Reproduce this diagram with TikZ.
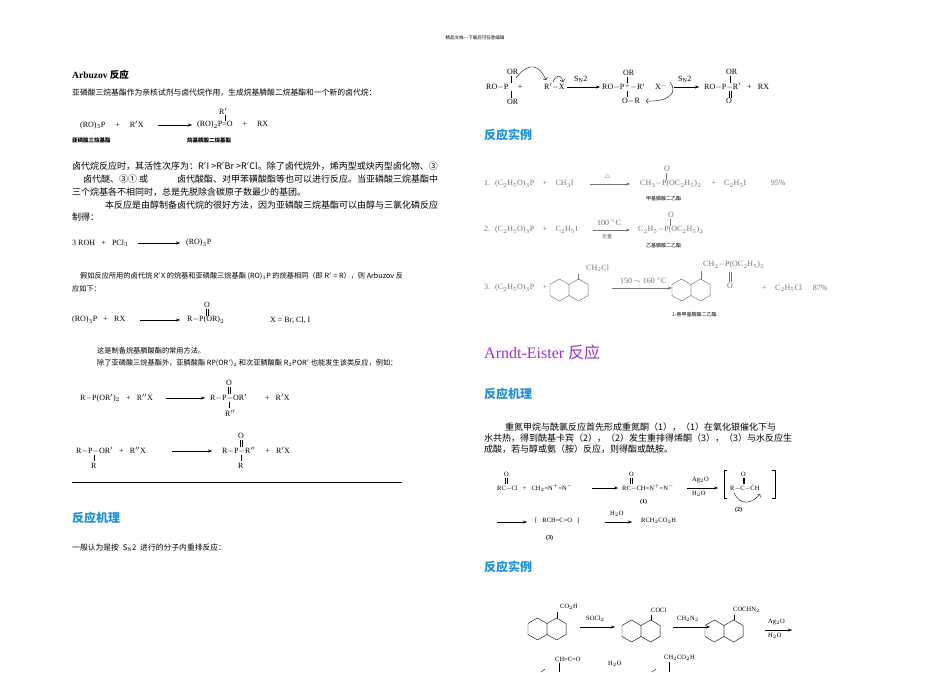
\documentclass[tikz,border=0pt]{standalone}
\usepackage{amsmath}
\usepackage{fontspec}
\setmainfont{Liberation Serif}
\newfontfamily\cjk{Noto Sans CJK SC}
\usetikzlibrary{arrows.meta}
\definecolor{hblue}{HTML}{1E8FD8}
\definecolor{hpurple}{HTML}{9A2FD6}
\tikzset{
 t/.style={anchor=west,inner sep=0,font=\fontsize{7.8}{9}\selectfont\cjk},
 tp/.style={anchor=west,inner sep=0,font=\fontsize{9}{10}\selectfont\cjk},
 ts/.style={anchor=west,inner sep=0,font=\fontsize{7.2}{9}\selectfont\cjk},
 ch/.style={anchor=west,inner sep=0,font=\fontsize{8}{9}\selectfont},
 chg/.style={ch,text=black!55},
 hd/.style={anchor=west,inner sep=0,font=\fontsize{12}{14}\selectfont\cjk\bfseries,text=hblue},
 rx/.style={-{Stealth[length=4pt,width=3pt]},line width=0.5pt},
 bd/.style={line width=0.4pt},
 pics/naph/.style={code={
   \foreach \cx in {-9.53,9.53}{
     \draw[bd] (\cx,0) ++(30:11) -- ++(150:11) -- ++(210:11) -- ++(270:11) -- ++(330:11) -- ++(30:11) -- cycle;}
 }}
}
\begin{document}
\begin{tikzpicture}[x=1pt,y=-1pt]
\useasboundingbox (0,0) rectangle (950,672);
\fill[white] (0,0) rectangle (950,672);
\node[inner sep=0,font=\fontsize{4.5}{5}\selectfont\cjk] (hdr) at (475,38) {精品文档---下载后可任意编辑};
% ===== left column
\node[anchor=west,inner sep=0,font=\fontsize{9.5}{11}\selectfont\bfseries] (arb) at (72,75) {Arbuzov {\cjk 反应}};
\node[t] (l1) at (72,93) {亚磷酸三烷基酯作为亲核试剂与卤代烷作用，生成烷基膦酸二烷基酯和一个新的卤代烷：};
\node[ch] (r1a) at (80,125) {(RO)$_3$P \quad + \quad R$'$X};
\draw[rx] (158,125) -- (192,125);
\node[ch] (r1b) at (197,125) {(RO)$_2$P=O \quad + \quad RX};
\node[ch] (r1c) at (219,111) {R$'$};
\draw[bd] (225,115) -- (225,121);
\node[t,font=\fontsize{5.5}{6}\selectfont\cjk\bfseries] (n1) at (72,140) {亚磷酸三烷基酯};
\node[t,font=\fontsize{5.5}{6}\selectfont\cjk\bfseries] (n2) at (187,140) {烷基膦酸二烷基酯};
\node[tp] (p1) at (72,166) {卤代烷反应时，其活性次序为：R$'$I >R$'$Br >R$'$Cl。除了卤代烷外，烯丙型或炔丙型卤化物、③};
\node[tp] (p2) at (83,179) {卤代醚、③① 或 \qquad\quad 卤代酸酯、对甲苯磺酸酯等也可以进行反应。当亚磷酸三烷基酯中};
\node[tp] (p3) at (72,192) {三个烷基各不相同时，总是先脱除含碳原子数最少的基团。};
\node[tp] (p4) at (105,205) {本反应是由醇制备卤代烷的很好方法，因为亚磷酸三烷基酯可以由醇与三氯化磷反应};
\node[tp] (p5) at (72,217) {制得：};
\node[ch] (r2a) at (72,243) {3 ROH \; + \; PCl$_3$};
\draw[rx] (138,243) -- (180,243);
\node[ch] (r2b) at (186,243) {(RO)$_3$P};
\node[ts] (p6) at (80,276) {假如反应所用的卤代烷 R$'$X 的烷基和亚磷酸三烷基酯 (RO)$_3$P 的烷基相同（即 R$'$ = R），则 Arbuzov 反};
\node[ts] (p7) at (72,289) {应如下：};
\node[ch] (r3a) at (72,320) {(RO)$_3$P \; + \; RX};
\draw[rx] (140,320) -- (180,320);
\node[ch] (r3b) at (187,320) {R$-$P(OR)$_2$};
\node[ch] (r3o) at (204,305) {O};
\draw[bd] (206.5,309) -- (206.5,316); \draw[bd] (208.5,309) -- (208.5,316);
\node[ch] (r3x) at (270,320) {X = Br, Cl, I};
\node[ts] (p8) at (97,351) {这是制备烷基膦酸酯的常用方法。};
\node[ts] (p9) at (97,363) {除了亚磷酸三烷基酯外，亚膦酸酯 RP(OR$'$)$_2$ 和次亚膦酸酯 R$_2$POR$'$ 也能发生该类反应，例如：};
\node[ch] (r4a) at (80,398) {R$-$P(OR$'$)$_2$ \; + \; R$''$X};
\draw[rx] (166,398) -- (205,398);
\node[ch] (r4b) at (210,398) {R$-$P$-$OR$'$ \qquad + \; R$'$X};
\node[ch] (r4o) at (226,383) {O};
\draw[bd] (228,387) -- (228,394); \draw[bd] (230,387) -- (230,394);
\draw[bd] (229,402) -- (229,408);
\node[ch] (r4r) at (225,413) {R$''$};
\node[ch] (r5a) at (76,451) {R$-$P$-$OR$'$ \; + \; R$''$X};
\draw[bd] (94,455) -- (94,461);
\node[ch] (r5r) at (91,466) {R};
\draw[rx] (172,451) -- (212,451);
\node[ch] (r5b) at (222,451) {R$-$P$-$R$''$ \quad + \; R$'$X};
\node[ch] (r5o) at (238,436) {O};
\draw[bd] (240,440) -- (240,447); \draw[bd] (242,440) -- (242,447);
\draw[bd] (241,455) -- (241,461);
\node[ch] (r5r2) at (238,466) {R};
\draw[line width=0.4pt] (72,482) -- (402,482);
\node[hd] (h1) at (72,518) {反应机理};
\node[t] (p10) at (72,548) {一般认为是按 \;S$_\mathrm{N}$2\; 进行的分子内重排反应：};
% ===== right column mechanism
\node[ch] (m1) at (486,87) {RO$-$P$\!:$ \;\; +};
\node[ch] (m1a) at (507,72) {OR};
\node[ch] (m1b) at (507,102) {OR};
\draw[bd] (511,76) -- (511,83); \draw[bd] (511,91) -- (511,98);
\node[ch] (m2) at (544,87) {R$'$$-$X};
\draw[->,bd] (516,78) .. controls (530,60) and (540,66) .. (546,80);
\draw[->,bd] (553,82) .. controls (557,74) and (561,74) .. (563,82);
\draw[rx] (567,87) -- (600,87);
\node[ch] (sn1) at (574,79) {S$_\mathrm{N}$2};
\node[ch] (m3) at (602,87) {RO$-$P$^{+}$$-$R$'$ \quad X$^-$};
\node[ch] (m3a) at (623,73) {OR};
\draw[bd] (627,77) -- (627,83); \draw[bd] (627,91) -- (627,97);
\node[ch] (m3b) at (622,101) {O$-$R};
\draw[->,bd] (670,82) .. controls (678,92) and (670,102) .. (646,101);
\draw[rx] (674,87) -- (699,87);
\node[ch] (sn2) at (678,79) {S$_\mathrm{N}$2};
\node[ch] (m4) at (704,87) {RO$-$P$-$R$'$ \; + \; RX};
\node[ch] (m4a) at (726,72) {OR};
\draw[bd] (730,76) -- (730,83); \draw[bd] (729,91) -- (729,98); \draw[bd] (731,91) -- (731,98);
\node[ch] (m4b) at (726,101) {O};
\node[hd] (h2) at (484,135) {反应实例};
% examples
\node[chg] (e1) at (484,184) {1.\; (C$_2$H$_5$O)$_3$P \;\; + \;\; CH$_3$I};
\draw[rx,black!55] (590,184) -- (630,184);
\node[chg] (e1d) at (604,177) {$\scriptstyle\triangle$};
\node[chg] (e1p) at (640,184) {CH$_3-$P(OC$_2$H$_5$)$_2$ \quad + \;\; C$_2$H$_5$I \qquad\;\; 95\%};
\node[chg] (e1o) at (664,169) {O}; \draw[black!55,bd] (666,173) -- (666,180);
\node[t,font=\fontsize{5}{6}\selectfont\cjk] (e1n) at (646,199) {甲基膦酸二乙酯};
\node[chg] (e2) at (484,230) {2.\; (C$_2$H$_5$O)$_3$P \;\; + \;\; C$_2$H$_5$I};
\draw[rx,black!55] (593,230) -- (630,230);
\node[chg] (e2t) at (597,223) {100 $^\circ$C};
\node[t,font=\fontsize{5}{6}\selectfont\cjk,text=black!60] (e2s) at (602,237) {定量};
\node[chg] (e2p) at (638,230) {C$_2$H$_5-$P(OC$_2$H$_5$)$_2$};
\node[chg] (e2o) at (668,215) {O}; \draw[black!55,bd] (670,219) -- (670,226);
\node[t,font=\fontsize{5}{6}\selectfont\cjk] (e2n) at (646,246) {乙基膦酸二乙酯};
\node[chg] (e3) at (484,288) {3.\; (C$_2$H$_5$O)$_3$P \;\; +};
\pic[black!60] at (569,290) {naph};
\node[chg] (e3c) at (586,268) {CH$_2$Cl};
\draw[black!55,bd] (578,274) -- (578,280);
\draw[rx,black!55] (612,288) -- (672,288);
\node[chg] (e3t) at (620,281) {150 $\sim$ 160 $^\circ$C};
\pic[black!60] at (691,290) {naph};
\node[chg] (e3p) at (703,265) {CH$_2-$P(OC$_2$H$_5$)$_2$};
\draw[black!55,bd] (701,271) -- (701,280);
\draw[black!55,bd] (729,272) -- (729,282); \draw[black!55,bd] (731,272) -- (731,282);
\node[chg] (e3o) at (727,286) {O};
\node[chg] (e3r) at (762,288) {+ \;\; C$_2$H$_5$Cl \;\;\; 87\%};
\node[t,font=\fontsize{5}{6}\selectfont\cjk] (e3n) at (672,315) {1-萘甲基膦酸二乙酯};
% Arndt-Eister
\node[anchor=west,inner sep=0,font=\fontsize{16}{18}\selectfont,text=hpurple] (ae) at (484,352) {Arndt-Eister {\cjk 反应}};
\node[hd] (h3) at (484,394) {反应机理};
\node[tp] (q1) at (505,427) {重氮甲烷与酰氯反应首先形成重氮酮（1），（1）在氧化银催化下与};
\node[tp] (q2) at (484,438) {水共热，得到酰基卡宾（2），（2）发生重排得烯酮（3），（3）与水反应生};
\node[tp] (q3) at (484,449) {成酸，若与醇或氨（胺）反应，则得酯或酰胺。};
\tikzset{cs/.style={ch,font=\fontsize{6.5}{7}\selectfont}}
\node[cs] (a1) at (497,488) {RC$-$Cl \; + \; CH$_2$=N$^{+}$=N$^-$};
\node[cs] (a1o) at (504,474) {O}; \draw[bd] (505.5,478) -- (505.5,484); \draw[bd] (507,478) -- (507,484);
\draw[rx] (592,488) -- (618,488);
\node[cs] (a2) at (622,488) {RC$-$CH=N$^{+}$=N$^-$};
\node[cs] (a2o) at (629,474) {O}; \draw[bd] (630.5,478) -- (630.5,484); \draw[bd] (632,478) -- (632,484);
\node[cs,font=\fontsize{6}{7}\selectfont\bfseries] (n1b) at (640,502) {(1)};
\draw[rx] (687,488) -- (718,488);
\node[cs] (ag) at (692,480) {Ag$_2$O};
\node[cs] (h2o) at (692,494) {H$_2$O};
\draw[bd] (727,470) -- (724,470) -- (724,498) -- (727,498);
\draw[bd] (772,470) -- (775,470) -- (775,498) -- (772,498);
\node[cs] (a3) at (730,488) {R$-$C$-$\"CH};
\node[cs] (a3o) at (741,474) {O}; \draw[bd] (743,478) -- (743,484); \draw[bd] (744.5,478) -- (744.5,484);
\draw[->,bd] (734,493) .. controls (740,506) and (752,504) .. (760,494);
\node[cs,font=\fontsize{6}{7}\selectfont\bfseries] (n2b) at (735,510) {(2)};
\draw[rx] (497,522) -- (527,522);
\node[cs] (a4) at (535,521) {[ \; RCH=C=O \; ]};
\node[cs,font=\fontsize{6}{7}\selectfont\bfseries] (n3b) at (546,538) {(3)};
\draw[rx] (605,522) -- (632,522);
\node[cs] (h2ob) at (610,514) {H$_2$O};
\node[cs] (a5) at (641,521) {RCH$_2$CO$_2$H};
\node[hd] (h4) at (484,567) {反应实例};
% bottom example
\pic at (547,629) {naph};
\node[cs] (b1) at (560,607) {CO$_2$H}; \draw[bd] (557,612) -- (557,618);
\draw[rx] (580,627) -- (615,627); \node[cs] (b1t) at (586,619) {SOCl$_2$};
\pic at (641,631) {naph};
\node[cs] (b2) at (651,610) {COCl}; \draw[bd] (651,615) -- (651,620);
\draw[rx] (673,627) -- (710,627); \node[cs] (b2t) at (677,619) {CH$_2$N$_2$};
\pic at (724,631) {naph};
\node[cs] (b3) at (733,610) {COCHN$_2$}; \draw[bd] (734,615) -- (734,620);
\draw[rx] (765,630) -- (792,630);
\node[cs] (b3t) at (768,622) {Ag$_2$O}; \node[cs] (b3s) at (768,636) {H$_2$O};
\node[cs] (b4) at (555,659) {CH=C=O}; \draw[bd] (559,663) -- (559,672);
\node[cs] (b4t) at (608,664) {H$_2$O};
\node[cs] (b5) at (664,658) {CH$_2$CO$_2$H}; \draw[bd] (669,662) -- (669,672);
\draw[bd] (541,672) -- (545,669); \draw[bd] (652,672) -- (656,669);
\end{tikzpicture}
\end{document}
